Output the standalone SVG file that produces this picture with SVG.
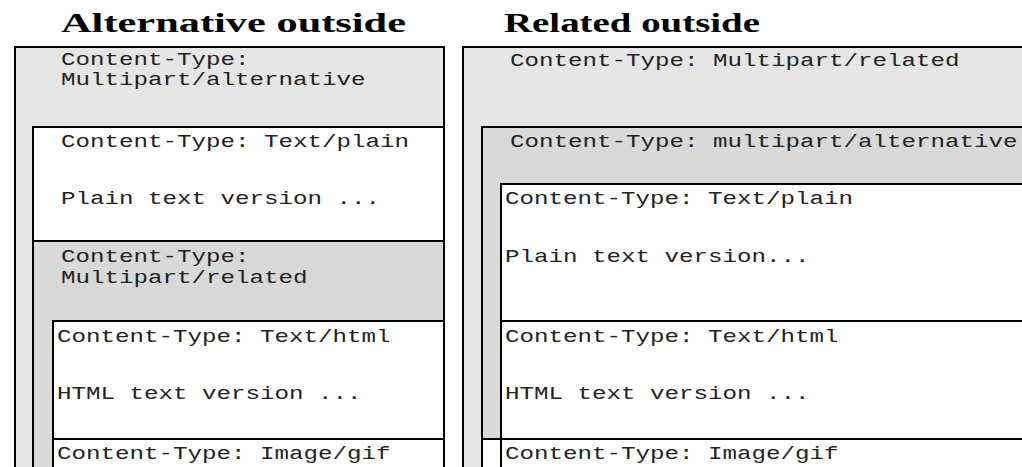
<svg xmlns="http://www.w3.org/2000/svg" width="1022" height="467" viewBox="0 0 1022 467">
<style>
.title{font-family:"Liberation Serif",serif;font-weight:bold;font-size:28px;fill:#000}
.t{font-family:"Liberation Mono",monospace;font-size:18px;fill:#222}
.b{stroke:#000;stroke-width:2}
.l1{fill:#e6e6e6}
.l2{fill:#d9d9d9}
.w{fill:#fff}
</style>
<rect width="1022" height="467" fill="#fff"/>
<text class="title" x="61" y="32" textLength="345" lengthAdjust="spacingAndGlyphs">Alternative outside</text>
<text class="title" x="504" y="32" textLength="256" lengthAdjust="spacingAndGlyphs">Related outside</text>

<g id="alt-outer">
<rect class="b l1" x="15" y="47" width="429" height="440"/>
<text class="t" x="61" y="65" textLength="188.5" lengthAdjust="spacingAndGlyphs">Content-Type:</text>
<text class="t" x="61" y="85" textLength="304.5" lengthAdjust="spacingAndGlyphs">Multipart/alternative</text>
</g>
<g id="alt-plain">
<rect class="b w" x="33" y="127" width="411" height="114"/>
<text class="t" x="61" y="147" textLength="348" lengthAdjust="spacingAndGlyphs">Content-Type: Text/plain</text>
<text class="t" x="61" y="204" textLength="319" lengthAdjust="spacingAndGlyphs">Plain text version ...</text>
</g>
<g id="alt-related">
<rect class="b l2" x="33" y="241" width="411" height="246"/>
<text class="t" x="61" y="262" textLength="188.5" lengthAdjust="spacingAndGlyphs">Content-Type:</text>
<text class="t" x="61" y="283" textLength="246.5" lengthAdjust="spacingAndGlyphs">Multipart/related</text>
</g>
<g id="alt-html">
<rect class="b w" x="53" y="321" width="391" height="118"/>
<text class="t" x="57" y="342" textLength="333.5" lengthAdjust="spacingAndGlyphs">Content-Type: Text/html</text>
<text class="t" x="57" y="399" textLength="304.5" lengthAdjust="spacingAndGlyphs">HTML text version ...</text>
</g>
<g id="alt-gif">
<rect class="b w" x="53" y="439" width="391" height="48"/>
<text class="t" x="57" y="459" textLength="333.5" lengthAdjust="spacingAndGlyphs">Content-Type: Image/gif</text>
</g>

<g id="rel-outer">
<rect class="b l1" x="463" y="47" width="580" height="440"/>
<text class="t" x="510" y="66" textLength="449.5" lengthAdjust="spacingAndGlyphs">Content-Type: Multipart/related</text>
</g>
<g id="rel-alt">
<rect class="b l2" x="482" y="127" width="560" height="312"/>
<text class="t" x="510" y="147" textLength="507.5" lengthAdjust="spacingAndGlyphs">Content-Type: multipart/alternative</text>
</g>
<g id="rel-plain">
<rect class="b w" x="501" y="184" width="540" height="137"/>
<text class="t" x="505" y="204" textLength="348" lengthAdjust="spacingAndGlyphs">Content-Type: Text/plain</text>
<text class="t" x="505" y="262" textLength="304.5" lengthAdjust="spacingAndGlyphs">Plain text version...</text>
</g>
<g id="rel-html">
<rect class="b w" x="501" y="321" width="540" height="118"/>
<text class="t" x="505" y="342" textLength="333.5" lengthAdjust="spacingAndGlyphs">Content-Type: Text/html</text>
<text class="t" x="505" y="399" textLength="304.5" lengthAdjust="spacingAndGlyphs">HTML text version ...</text>
</g>
<g id="rel-gif">
<rect class="b w" x="482" y="439" width="560" height="48"/>
<line class="b" x1="501" y1="439" x2="501" y2="467"/>
<text class="t" x="505" y="459" textLength="333.5" lengthAdjust="spacingAndGlyphs">Content-Type: Image/gif</text>
</g>
<g id="connectors"/>
</svg>
